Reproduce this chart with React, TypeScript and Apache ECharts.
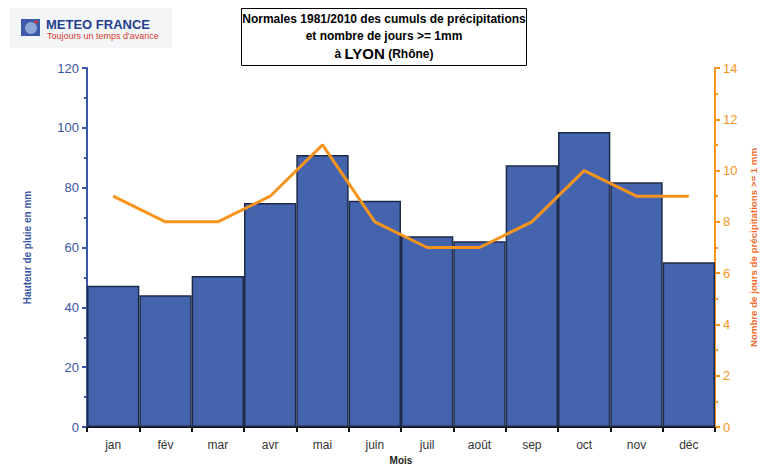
import React, { useEffect, useRef } from "react";
import * as echarts from "echarts";

const months = ["jan", "fév", "mar", "avr", "mai", "juin", "juil", "août", "sep", "oct", "nov", "déc"];
const rainMm = [47.2, 44.0, 50.5, 74.9, 90.9, 75.6, 63.8, 62.1, 87.5, 98.6, 81.8, 55.1];
const rainyDays = [9, 8, 8, 9, 11, 8, 7, 7, 8, 10, 9, 9];

const BLUE = "#3b56a6";
const ORANGE = "#f7941d";

export default function App() {
  const ref = useRef<HTMLDivElement>(null);
  useEffect(() => {
    const chart = echarts.init(ref.current!, null, { renderer: "svg" });
    const font = "Liberation Sans, Arial, sans-serif";
    chart.setOption({
      animation: false,
      textStyle: { fontFamily: font },
      grid: { left: 87, right: 45, top: 68, bottom: 40, containLabel: false, outerBoundsMode: "none" },
      graphic: [
        { type: "rect", shape: { x: 10, y: 8, width: 162, height: 40 }, style: { fill: "#f4f5f7" } },
        { type: "rect", shape: { x: 21, y: 19, width: 19, height: 17 }, style: { fill: "#3c5aa8" } },
        { type: "circle", shape: { cx: 31, cy: 28, r: 6 }, style: { fill: "#8fa6d8" } },
        { type: "circle", shape: { cx: 36, cy: 22, r: 1.6 }, style: { fill: "#e03030" } },
        { type: "text", x: 46, y: 18, style: { text: "METEO FRANCE", font: "bold 13px " + font, fill: "#1f3f8f" } },
        { type: "text", x: 47, y: 31, style: { text: "Toujours un temps d'avance", font: "9px " + font, fill: "#d83a2e" } },
        { type: "rect", shape: { x: 241.5, y: 8.5, width: 285, height: 57 }, style: { fill: "#fff", stroke: "#000", lineWidth: 1 } },
        { type: "text", x: 384, y: 13, style: { text: "Normales 1981/2010 des cumuls de précipitations", font: "bold 12px " + font, fill: "#000", align: "center" } },
        { type: "text", x: 384, y: 30, style: { text: "et nombre de jours >= 1mm", font: "bold 12px " + font, fill: "#000", align: "center" } },
        {
          type: "text", x: 384, y: 46,
          style: {
            text: "{a|à }{b|LYON}{a| (Rhône)}",
            align: "center",
            rich: {
              a: { font: "bold 12px " + font, fill: "#000" },
              b: { font: "bold 15px " + font, fill: "#000" },
            },
          },
        },
      ],
      xAxis: {
        type: "category",
        data: months,
        boundaryGap: true,
        name: "Mois",
        nameLocation: "middle",
        nameGap: 28,
        nameTextStyle: { fontSize: 10, fontWeight: "bold", color: "#222" },
        axisLine: { lineStyle: { color: "#111", width: 2 } },
        axisTick: { show: true, alignWithLabel: false, length: 5, lineStyle: { color: "#111", width: 2 } },
        axisLabel: { color: "#333", fontSize: 12, margin: 12 },
      },
      yAxis: [
        {
          type: "value",
          min: 0, max: 120, interval: 20,
          name: "Hauteur de pluie en mm",
          nameLocation: "middle",
          nameGap: 55,
          nameRotate: 90,
          nameTextStyle: { fontSize: 10, fontWeight: "bold", color: BLUE },
          axisLine: { show: true, lineStyle: { color: BLUE, width: 2 } },
          axisTick: { show: true, length: 5, lineStyle: { color: BLUE, width: 2 } },
          minorTick: { show: true, splitNumber: 2, length: 3, lineStyle: { color: BLUE, width: 2 } },
          axisLabel: { color: BLUE, fontSize: 13, margin: 8 },
          splitLine: { show: false },
        },
        {
          type: "value",
          min: 0, max: 14, interval: 2,
          position: "right",
          name: "Nombre de jours de précipitations >= 1 mm",
          nameLocation: "middle",
          nameGap: 33,
          nameRotate: 90,
          nameTextStyle: { fontSize: 9.7, fontWeight: "bold", color: "#f26a2a" },
          axisLine: { show: true, lineStyle: { color: ORANGE, width: 2 } },
          axisTick: { show: true, length: 5, lineStyle: { color: ORANGE, width: 2 } },
          minorTick: { show: true, splitNumber: 2, length: 3, lineStyle: { color: ORANGE, width: 2 } },
          axisLabel: { color: ORANGE, fontSize: 13, margin: 8 },
          splitLine: { show: false },
        },
      ],
      series: [
        {
          type: "bar",
          data: rainMm,
          yAxisIndex: 0,
          barCategoryGap: "0%",
          itemStyle: { color: "#4464ad", borderColor: "#1e2a4a", borderWidth: 1.5 },
        },
        {
          type: "line",
          data: rainyDays,
          yAxisIndex: 1,
          showSymbol: false,
          symbol: "none",
          lineStyle: { color: ORANGE, width: 3 },
          z: 5,
        },
      ],
    });
    return () => chart.dispose();
  }, []);
  return <div ref={ref} style={{ width: 760, height: 467, position: "absolute", left: 0, top: 0 }} />;
}
